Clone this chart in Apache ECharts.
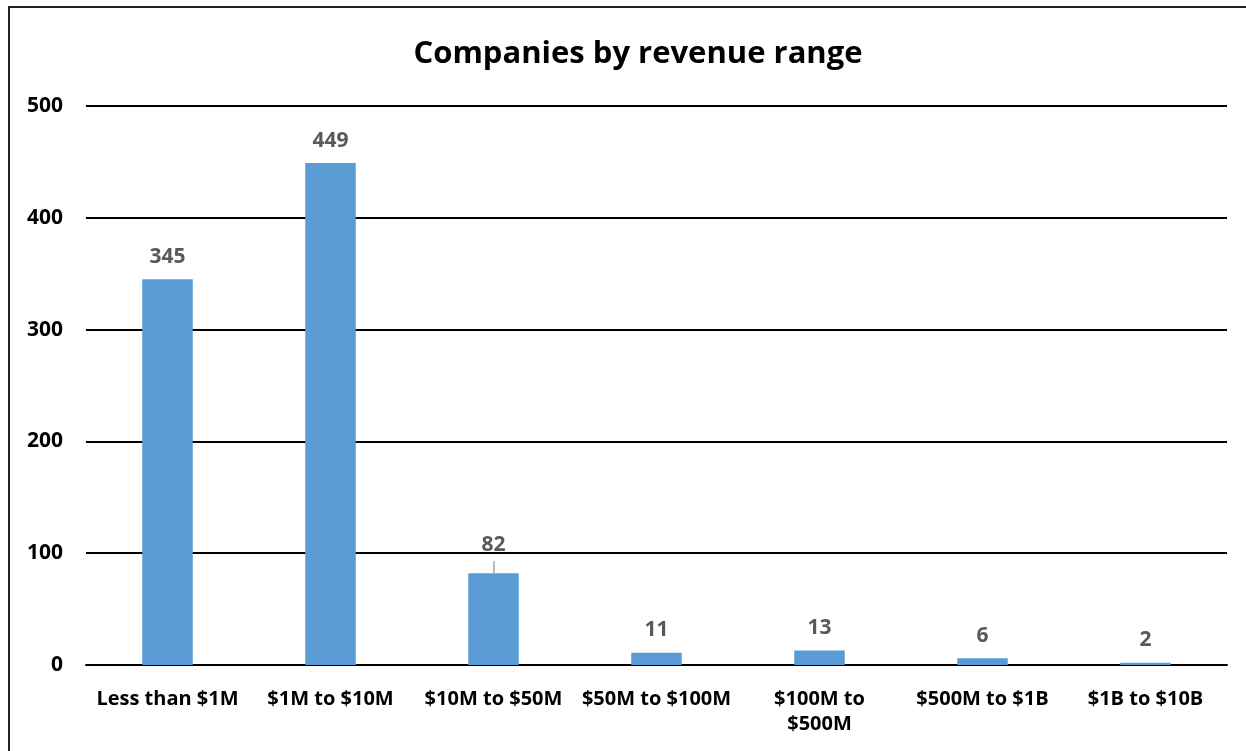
<!DOCTYPE html>
<html>
<head>
<meta charset="utf-8">
<script src="https://cdn.jsdelivr.net/npm/echarts@6/dist/echarts.min.js"></script>
<style>
  html, body { margin: 0; padding: 0; background: #fff; }
  #chart { width: 1246px; height: 751px; }
</style>
</head>
<body>
<div id="chart"></div>
<script>
// Revenue brackets and the number of companies in each
const categories = ['Less than $1M', '$1M to $10M', '$10M to $50M', '$50M to $100M', '$100M to\n$500M', '$500M to $1B', '$1B to $10B'];
const companyCounts = [345, 449, 82, 11, 13, 6, 2];
const yTicks = [0, 100, 200, 300, 400, 500];

const FONT = '"Open Sans", sans-serif';
const chart = echarts.init(document.getElementById('chart'));

// The "82" label sits a little higher, joined to its bar by a short leader
const liftedIndex = 2;
const leaderTop = 93;

chart.setOption({
  animation: false,
  backgroundColor: '#fff',
  title: {
    text: 'Companies by revenue range',
    left: 633,
    textAlign: 'center',
    top: 34,
    textStyle: { fontFamily: FONT, fontWeight: 'bold', fontSize: 31, color: '#000' }
  },
  graphic: [{
    type: 'rect',
    shape: { x: 9, y: 7, width: 1260, height: 780 },
    style: { fill: 'none', stroke: '#222', lineWidth: 2 },
    silent: true
  }],
  grid: { left: 86, right: 19, top: 106, bottom: 86 },
  xAxis: {
    type: 'category',
    data: categories,
    axisLine: { lineStyle: { color: '#000', width: 2 } },
    axisTick: { show: false },
    axisLabel: {
      interval: 0, margin: 22, color: '#000',
      fontFamily: FONT, fontWeight: 'bold', fontSize: 20, lineHeight: 25
    }
  },
  yAxis: {
    type: 'value',
    min: yTicks[0],
    max: yTicks[yTicks.length - 1],
    interval: yTicks[1] - yTicks[0],
    axisLine: { show: false },
    axisTick: { show: false },
    axisLabel: { margin: 23, color: '#000', fontFamily: FONT, fontWeight: 'bold', fontSize: 21 },
    splitLine: { lineStyle: { color: '#000', width: 2 } }
  },
  series: [{
    type: 'bar',
    data: companyCounts.map((v, i) => i === liftedIndex
      ? { value: v, label: { distance: 13 + (leaderTop - v) * 1.118 - 7 } }
      : v),
    barWidth: '31%',
    itemStyle: { color: '#5B9BD5' },
    label: {
      show: true, position: 'top', distance: 12,
      color: '#595959', fontFamily: FONT, fontWeight: 'bold', fontSize: 21
    },
    markLine: {
      silent: true,
      symbol: 'none',
      label: { show: false },
      lineStyle: { color: '#a6a6a6', width: 1.5, type: 'solid' },
      data: [[
        { coord: [categories[liftedIndex], companyCounts[liftedIndex]] },
        { coord: [categories[liftedIndex], leaderTop] }
      ]]
    }
  }]
});
</script>
</body>
</html>
